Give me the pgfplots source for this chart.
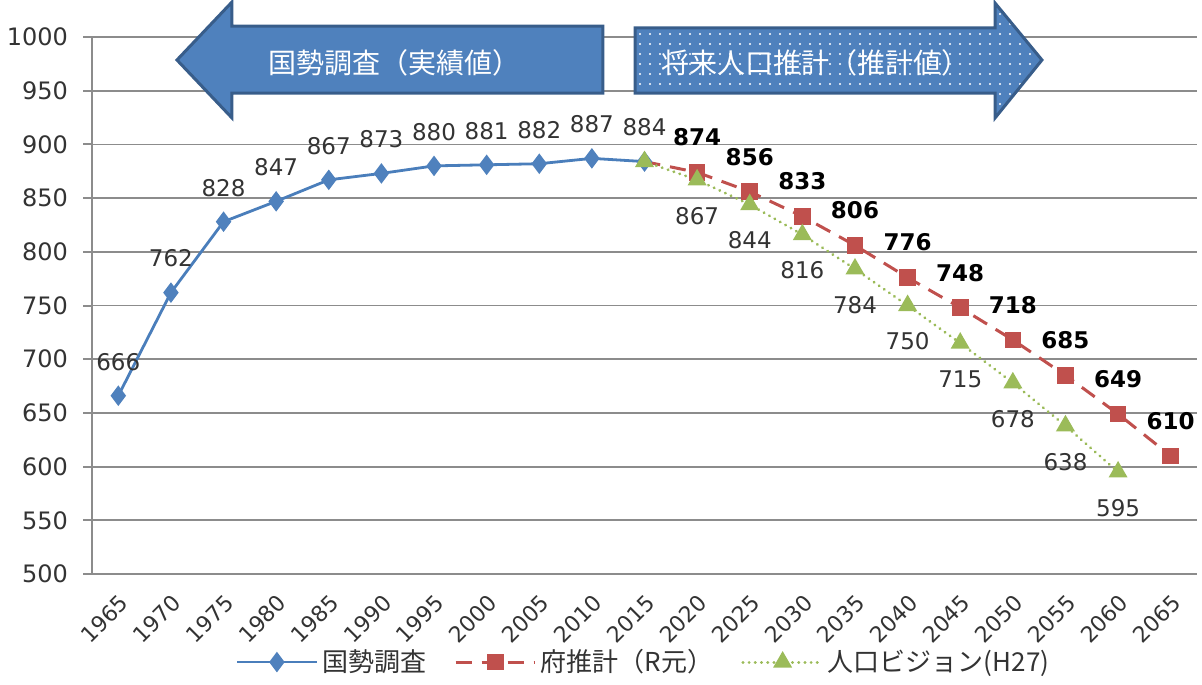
\documentclass[border=0pt]{standalone}
\usepackage{fontspec}
\setmainfont{DejaVu Sans}
\newfontfamily\jp{Noto Sans CJK JP}
\usepackage{pgfplots}
\pgfplotsset{compat=1.18}
\usetikzlibrary{patterns.meta}
\definecolor{cblue}{HTML}{4A7EBB}
\definecolor{cbluem}{HTML}{4F81BD}
\definecolor{cbord}{HTML}{385D8A}
\definecolor{cred}{HTML}{C0504D}
\definecolor{cgreen}{HTML}{9BBB59}
\definecolor{cgrid}{HTML}{8C8C8C}
\definecolor{ctxt}{HTML}{333333}
\begin{document}
\begin{tikzpicture}
\begin{axis}[
  at={(0,0)}, anchor=south west,
  width=552.5pt, height=268.5pt, scale only axis,
  clip=false,
  xmin=-0.5, xmax=20.5, ymin=500, ymax=1000,
  ytick={500,550,...,1000},
  xtick={0,...,20},
  xticklabels={1965,1970,1975,1980,1985,1990,1995,2000,2005,2010,2015,2020,2025,2030,2035,2040,2045,2050,2055,2060,2065},
  minor xtick={-0.5,0.5,...,20.5},
  xtick style={draw=none},
  minor tick length=4pt,
  major tick length=4.5pt,
  tick align=outside,
  axis x line*=bottom, axis y line*=left,
  axis line style={cgrid, line width=1pt},
  every tick/.style={cgrid, line width=1pt},
  minor tick style={cgrid, line width=1pt},
  ymajorgrids, grid style={cgrid, line width=0.9pt},
  /pgf/number format/assume math mode=true,
  /pgf/number format/1000 sep={},
  tick label style={text=ctxt},
  yticklabel style={font=\fontsize{12}{14}\selectfont, xshift=-4pt},
  xticklabel style={font=\fontsize{11}{13}\selectfont, rotate=45, anchor=north east},
  legend style={at={(0.5,-0.164)}, anchor=center, draw=none, fill=none,
    font=\jp\fontsize{13}{15}\selectfont, text=ctxt,
    /tikz/every even column/.append style={column sep=12pt}},
  legend columns=3,
  legend image code/.code={\draw[mark repeat=2,mark phase=2] plot coordinates {(0cm,0cm) (0.7cm,0cm) (1.4cm,0cm)};},
]
% arrows
\draw[fill=cbluem, draw=cbord, line width=1.5pt, line join=miter]
  (rel axis cs:0.0769,0.9572) -- (rel axis cs:0.1267,1.0652) -- (rel axis cs:0.1267,1.0205)
  -- (rel axis cs:0.4624,1.0205) -- (rel axis cs:0.4624,0.8957) -- (rel axis cs:0.1267,0.8957)
  -- (rel axis cs:0.1267,0.8492) -- cycle;
\node[text=white, font=\jp\fontsize{14}{16}\selectfont] at (rel axis cs:0.274,0.9516) {国勢調査（実績値）};
\draw[preaction={fill=cbluem}, pattern={Dots[distance=5pt, radius=0.55pt]}, pattern color=white, draw=cbord, line width=1.5pt, line join=miter]
  (rel axis cs:0.4914,1.0168) -- (rel axis cs:0.8172,1.0168) -- (rel axis cs:0.8172,1.0633)
  -- (rel axis cs:0.8597,0.9572) -- (rel axis cs:0.8172,0.8492) -- (rel axis cs:0.8172,0.8957)
  -- (rel axis cs:0.4914,0.8957) -- cycle;
\node[text=white, font=\jp\fontsize{14}{16}\selectfont] at (rel axis cs:0.6546,0.9516) {将来人口推計（推計値）};

% 国勢調査
\addplot[cblue, line width=1.4pt, mark=diamond*, mark size=4pt,
  mark options={fill=cbluem, draw=cbluem},
  nodes near coords,
  every node near coord/.append style={anchor=center, yshift=17pt, font=\fontsize{11.5}{13}\selectfont, text=ctxt}]
coordinates {(0,666)(1,762)(2,828)(3,847)(4,867)(5,873)(6,880)(7,881)(8,882)(9,887)(10,884)};
\addlegendentry{国勢調査}
% 府推計 segment
\addplot[cred, line width=1.5pt, dash pattern=on 8pt off 5pt, forget plot]
coordinates {(10,884)(11,874)};
\addplot[cred, line width=1.5pt, dash pattern=on 8pt off 5pt, mark=square*, mark size=3.4pt,
  mark options={solid, fill=cred, draw=cred},
  nodes near coords,
  every node near coord/.append style={anchor=center, yshift=17.5pt, font=\bfseries\fontsize{11.5}{13}\selectfont, text=black}]
coordinates {(11,874)(12,856)(13,833)(14,806)(15,776)(16,748)(17,718)(18,685)(19,649)(20,610)};
\addlegendentry{府推計（R元）}
% 人口ビジョン
\addplot[cgreen, line width=1.5pt, dash pattern=on 0.1pt off 3pt, line cap=round, mark=triangle*, mark size=4pt,
  mark options={solid, fill=cgreen, draw=cgreen},
  point meta=explicit symbolic,
  nodes near coords,
  every node near coord/.append style={anchor=center, yshift=-18pt, font=\fontsize{11.5}{13}\selectfont, text=ctxt}]
coordinates {(10,884)[] (11,867)[867] (12,844)[844] (13,816)[816] (14,784)[784] (15,750)[750] (16,715)[715] (17,678)[678] (18,638)[638] (19,595)[595]};
\addlegendentry{人口ビジョン(H27)}
\end{axis}
\pgfresetboundingbox
\path (-46pt,-55pt) rectangle (555pt,287pt);
\end{tikzpicture}
\end{document}
